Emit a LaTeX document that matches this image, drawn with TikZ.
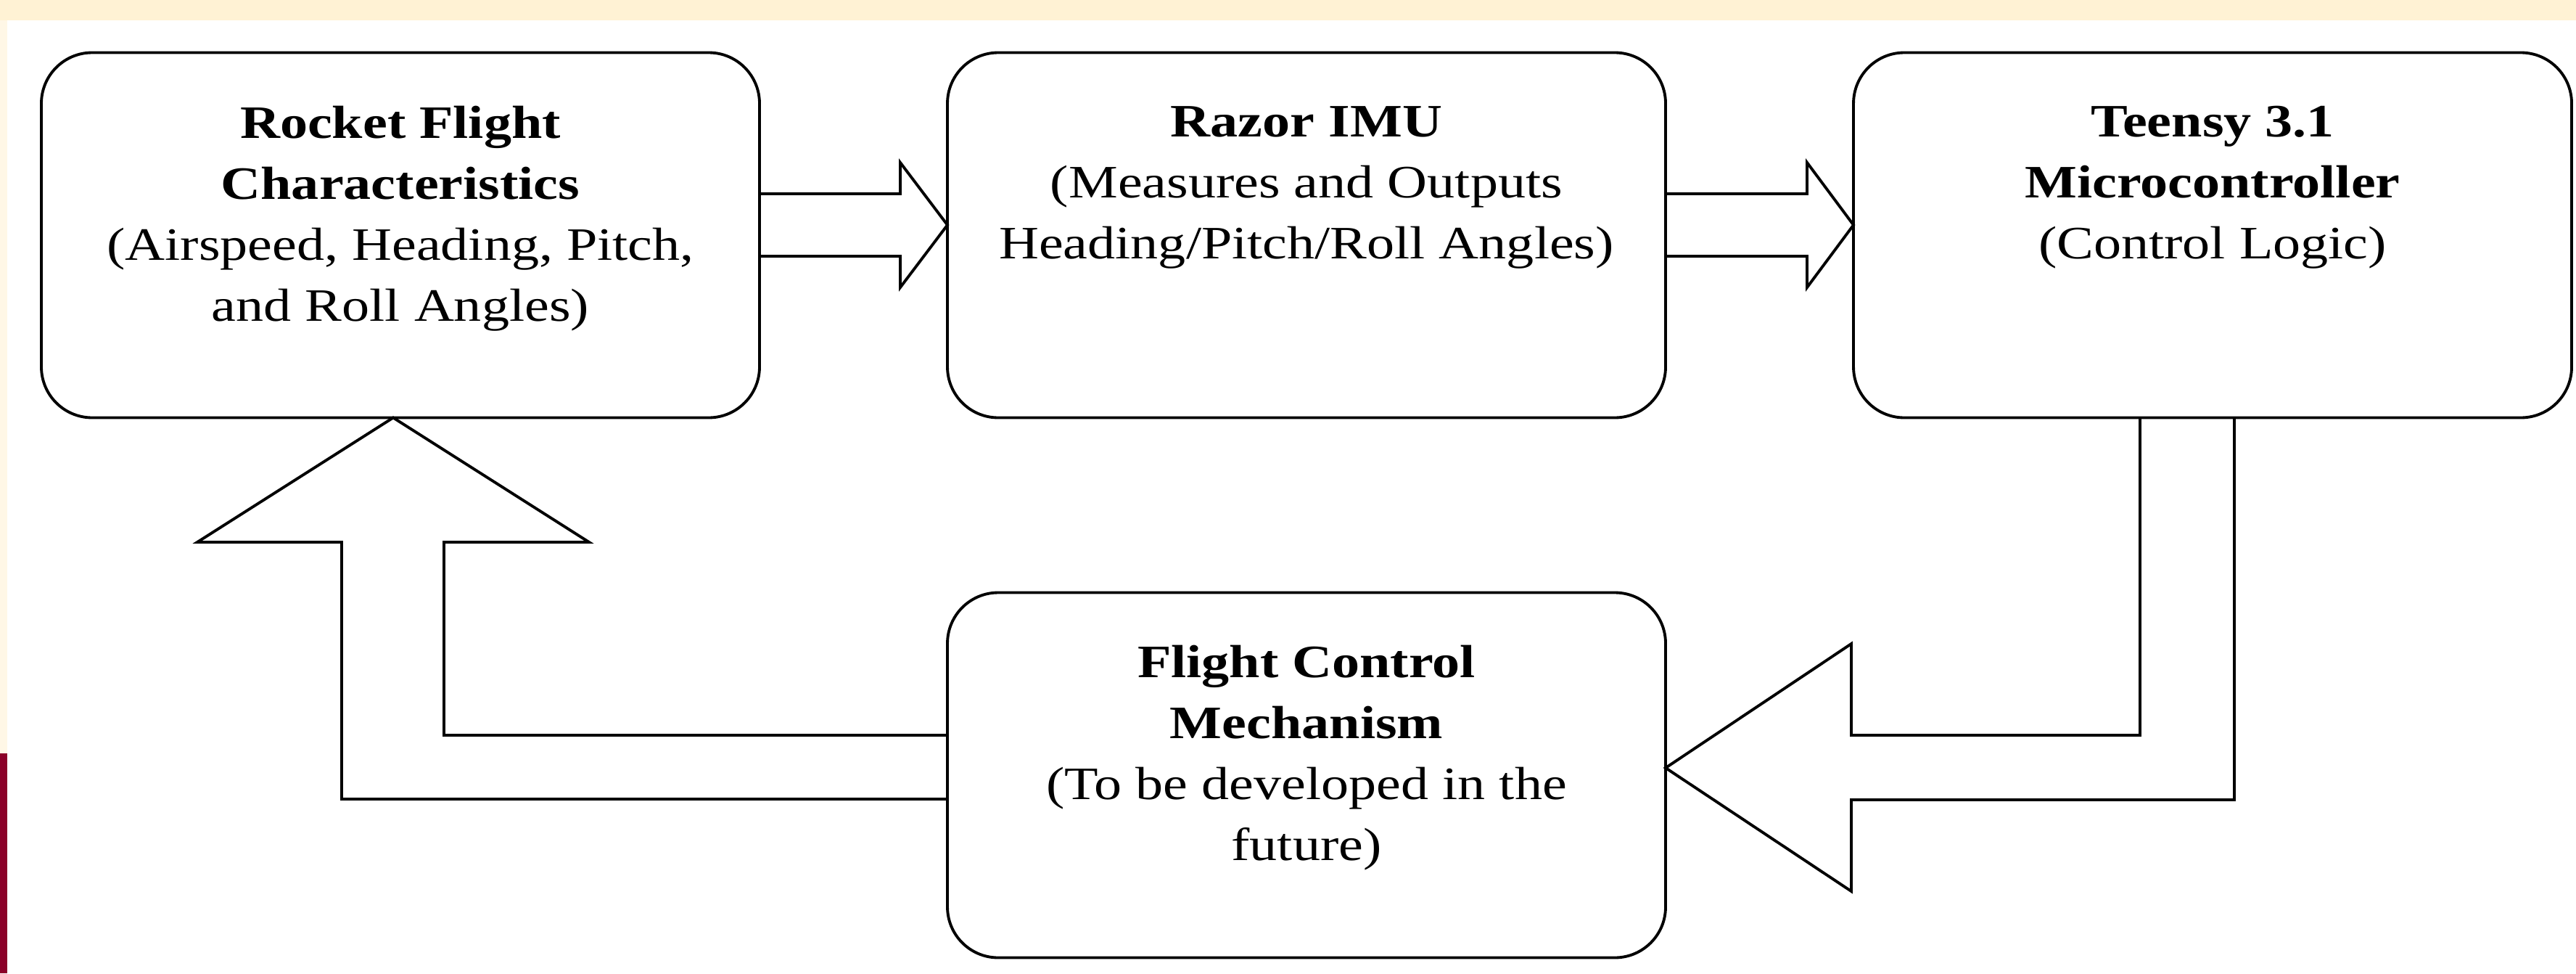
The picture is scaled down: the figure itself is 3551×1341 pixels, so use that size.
\documentclass[tikz,border=0pt]{standalone}
\usepackage{fontspec}
\setmainfont{Liberation Serif}[FakeStretch=1.19]
\usetikzlibrary{calc}

\definecolor{bandcream}{RGB}{255,242,212}
\definecolor{stripcream}{RGB}{255,247,230}
\definecolor{slidemaroon}{RGB}{139,0,40}

\tikzset{
  blk/.style={draw, line width=1.1pt, rounded corners=7mm, minimum width=99mm,
    minimum height=50.3mm, inner sep=0pt, outer sep=0pt},
  lbl/.style={align=center, inner sep=0pt, anchor=north,
    font=\fontsize{18.2pt}{8.4mm}\selectfont},
  blockarrow/.style={draw, line width=1.1pt}
}

\begin{document}
\begin{tikzpicture}[x=0.1mm, y=-0.1mm]
  \useasboundingbox (0,0) rectangle (3551,1341);
  % slide edges
  \fill[bandcream] (0,0) rectangle (3551,28);
  \fill[stripcream] (0,28) rectangle (10,1038);
  \fill[slidemaroon] (0,1038) rectangle (10,1341);

  % blocks
  \node[blk] (rocket) at (552,324) {};
  \node[blk] (razor) at (1801,324) {};
  \node[blk] (teensy) at (3050,324) {};
  \node[blk] (fcm) at (1801,1068) {};

  \node[lbl] (rocket-t) at ([yshift=-7.3mm]rocket.north)
    {\textbf{Rocket Flight}\\ \textbf{Characteristics}\\ (Airspeed, Heading, Pitch,\\ and Roll Angles)};
  \node[lbl] (razor-t) at ([yshift=-7.3mm]razor.north)
    {\textbf{Razor IMU}\\ (Measures and Outputs\\ Heading/Pitch/Roll Angles)};
  \node[lbl] (teensy-t) at ([yshift=-7.3mm]teensy.north)
    {\textbf{Teensy 3.1}\\ \textbf{Microcontroller}\\ (Control Logic)};
  \node[lbl] (fcm-t) at ([yshift=-7.2mm]fcm.north)
    {\textbf{Flight Control}\\ \textbf{Mechanism}\\ (To be developed in the\\ future)};

  % block arrows
  \draw[blockarrow] (rocket.east |- 0,267) -- (1241,267) -- (1241,224) -- (razor.west |- 0,310)
    -- (1241,396) -- (1241,353) -- (rocket.east |- 0,353);
  \draw[blockarrow] (razor.east |- 0,267) -- (2491,267) -- (2491,224) -- (teensy.west |- 0,310)
    -- (2491,396) -- (2491,353) -- (razor.east |- 0,353);
  \draw[blockarrow] (teensy.south -| 2950,0) -- (2950,1013) -- (2552,1013) -- (2552,887)
    -- (fcm.east |- 0,1058) -- (2552,1228) -- (2552,1102) -- (3080,1102) -- (teensy.south -| 3080,0);
  \draw[blockarrow] (fcm.west |- 0,1013) -- (612,1013) -- (612,747) -- (812,747)
    -- (rocket.south -| 542,0) -- (272,747) -- (471,747) -- (471,1101) -- (fcm.west |- 0,1101);
\end{tikzpicture}
\end{document}
